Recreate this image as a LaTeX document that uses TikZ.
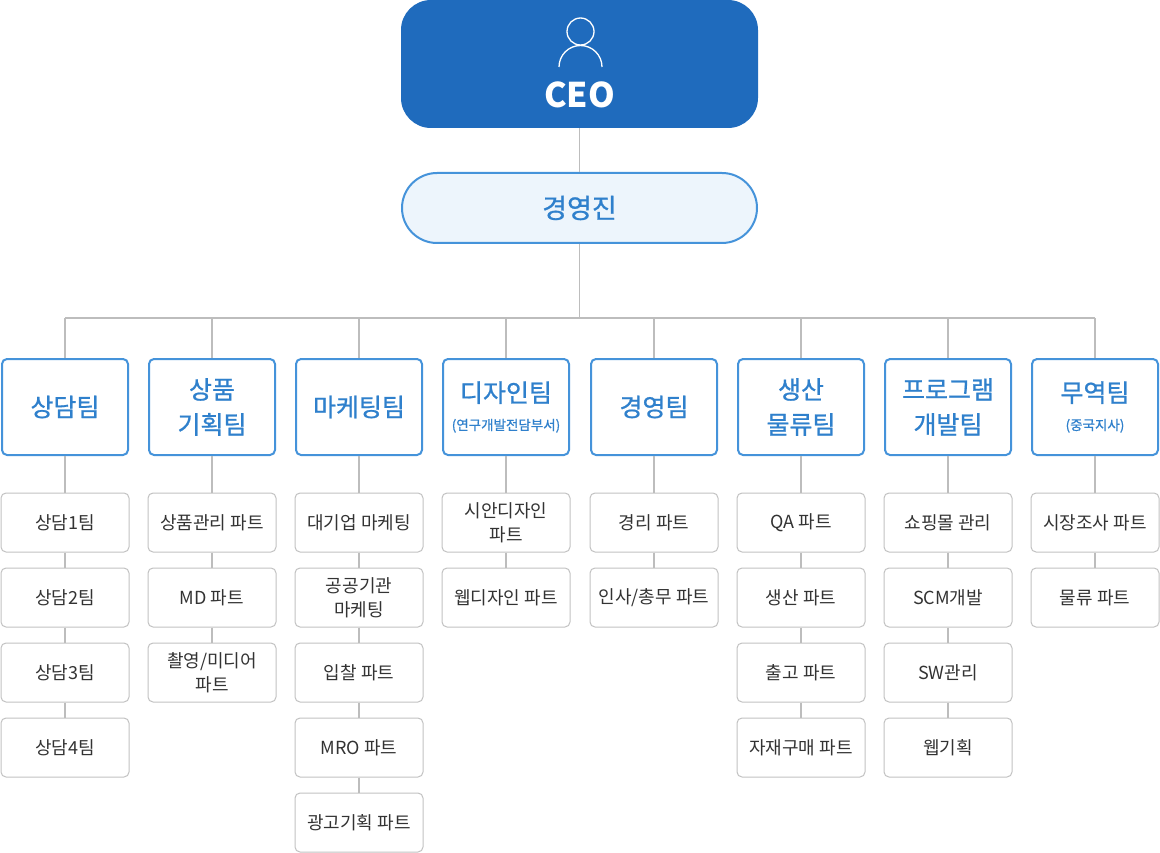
\documentclass[tikz,border=0pt]{standalone}
\usepackage{fontspec}
\setmainfont{Noto Sans CJK KR}
\newfontfamily\krmid[FakeBold=0.8]{Noto Sans CJK KR}
\definecolor{ceoblue}{HTML}{1F6BBD}
\definecolor{teamblue}{HTML}{4593DA}
\definecolor{teamtext}{HTML}{2F80CC}
\definecolor{boardfill}{HTML}{EDF5FC}
\definecolor{linegray}{HTML}{BDBDBD}
\definecolor{partgray}{HTML}{C2C2C2}
\definecolor{parttext}{HTML}{333333}
\begin{document}
\begin{tikzpicture}[x=1pt, y=-1pt,
    link/.style={draw=linegray, line width=1.3pt},
    ceobox/.style={fill=ceoblue, rounded corners=30pt, minimum width=357pt, minimum height=128pt, inner sep=0pt},
    board/.style={draw=teamblue, fill=boardfill, line width=2pt, rounded corners=35pt, minimum width=355pt, minimum height=70pt, text=teamtext, font=\krmid\fontsize{27}{32}\selectfont},
    team/.style={draw=teamblue, fill=white, line width=2pt, rounded corners=5pt, minimum width=126pt, minimum height=96pt, inner sep=0pt, align=center, text=teamtext, font=\krmid\fontsize{25}{35}\selectfont},
    part/.style={draw=partgray, fill=white, line width=1pt, rounded corners=5pt, minimum width=128pt, minimum height=59pt, inner sep=0pt, align=center, text=parttext, font=\fontsize{18}{24}\selectfont}]
    \useasboundingbox (0,0) rectangle (1160,853);
    % top
    \node[ceobox] (ceo) at (579.5,64) {};
    \draw[white, line width=1.3pt] (580.5,31.5) circle (13.5);
    \draw[white, line width=1.3pt] (559,67) arc[start angle=180, end angle=360, radius=21.5];
    \node[text=white, font=\bfseries\fontsize{34}{40}\selectfont] (ceotext) at (579.5,94.5) {CEO};
    \node[board] (gyj) at (579.5,208) {경영진};
    \coordinate (bus) at (579.5,318);
    % teams
    \node[team] (t1) at (65,407) {상담팀};
    \node[team] (t2) at (212,407) {상품\\기획팀};
    \node[team] (t3) at (359,407) {마케팅팀};
    \node[team] (t4) at (506,407) {디자인팀\\[-7pt]{\fontsize{13.5}{16}\selectfont(연구개발전담부서)}};
    \node[team] (t5) at (654,407) {경영팀};
    \node[team] (t6) at (801,407) {생산\\물류팀};
    \node[team] (t7) at (948,407) {프로그램\\개발팀};
    \node[team] (t8) at (1095,407) {무역팀\\[-7pt]{\fontsize{13.5}{16}\selectfont(중국지사)}};
    % parts
    \node[part] (t1a) at (65,522.5) {상담1팀};
    \node[part] (t1b) at (65,597.5) {상담2팀};
    \node[part] (t1c) at (65,672.5) {상담3팀};
    \node[part] (t1d) at (65,747.5) {상담4팀};
    \node[part] (t2a) at (212,522.5) {상품관리 파트};
    \node[part] (t2b) at (212,597.5) {MD 파트};
    \node[part] (t2c) at (212,672.5) {촬영/미디어\\파트};
    \node[part] (t3a) at (359,522.5) {대기업 마케팅};
    \node[part] (t3b) at (359,597.5) {공공기관\\마케팅};
    \node[part] (t3c) at (359,672.5) {입찰 파트};
    \node[part] (t3d) at (359,747.5) {MRO 파트};
    \node[part] (t3e) at (359,822.5) {광고기획 파트};
    \node[part] (t4a) at (506,522.5) {시안디자인\\파트};
    \node[part] (t4b) at (506,597.5) {웹디자인 파트};
    \node[part] (t5a) at (654,522.5) {경리 파트};
    \node[part] (t5b) at (654,597.5) {인사/총무 파트};
    \node[part] (t6a) at (801,522.5) {QA 파트};
    \node[part] (t6b) at (801,597.5) {생산 파트};
    \node[part] (t6c) at (801,672.5) {출고 파트};
    \node[part] (t6d) at (801,747.5) {자재구매 파트};
    \node[part] (t7a) at (948,522.5) {쇼핑몰 관리};
    \node[part] (t7b) at (948,597.5) {SCM개발};
    \node[part] (t7c) at (948,672.5) {SW관리};
    \node[part] (t7d) at (948,747.5) {웹기획};
    \node[part] (t8a) at (1095,522.5) {시장조사 파트};
    \node[part] (t8b) at (1095,597.5) {물류 파트};
    % links
    \draw[link] (ceo) -- (gyj);
    \draw[link] (gyj) -- (bus);
    \draw[link] (t1.north |- bus) -- (t8.north |- bus);
    \foreach \t in {t1,t2,t3,t4,t5,t6,t7,t8}
        \draw[link] (\t.north |- bus) -- (\t.north);
    \draw[link] (t1) -- (t1a) -- (t1b) -- (t1c) -- (t1d);
    \draw[link] (t2) -- (t2a) -- (t2b) -- (t2c);
    \draw[link] (t3) -- (t3a) -- (t3b) -- (t3c) -- (t3d) -- (t3e);
    \draw[link] (t4) -- (t4a) -- (t4b);
    \draw[link] (t5) -- (t5a) -- (t5b);
    \draw[link] (t6) -- (t6a) -- (t6b) -- (t6c) -- (t6d);
    \draw[link] (t7) -- (t7a) -- (t7b) -- (t7c) -- (t7d);
    \draw[link] (t8) -- (t8a) -- (t8b);
\end{tikzpicture}
\end{document}
